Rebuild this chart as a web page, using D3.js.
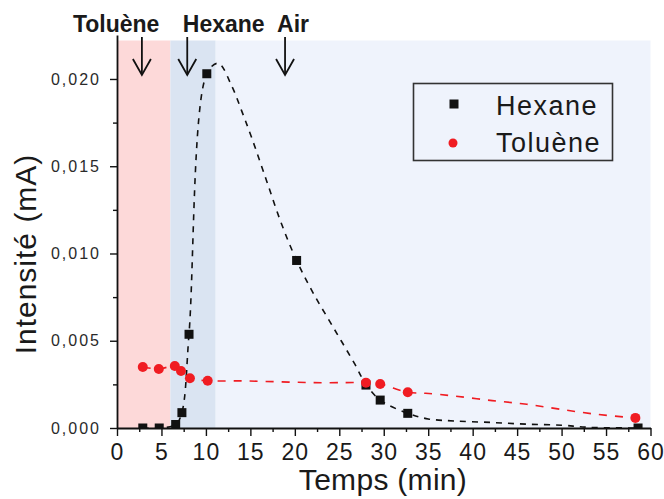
<!DOCTYPE html>
<html>
<head>
<meta charset="utf-8">
<script src="https://cdn.jsdelivr.net/npm/d3@7"></script>
<style>
  html, body { margin: 0; padding: 0; background: #ffffff; }
  svg { display: block; }
  .tick text { font-family: "Liberation Sans", Arial, sans-serif; }
</style>
</head>
<body>
<svg id="chart" width="664" height="499"></svg>
<script>
// Measured series: time (min) and current (mA)
const hexaneT = [2.9, 4.75, 6.6, 7.3, 8.1, 10.1, 20.2, 28.0, 29.6, 32.7, 58.6];
const hexaneV = [0, 0, 0.0002, 0.00088, 0.00537, 0.0203, 0.0096, 0.00246, 0.0016, 0.00084, 0];
const tolueneT = [2.9, 4.7, 6.5, 7.2, 8.2, 10.2, 28.0, 29.6, 32.7, 58.3];
const tolueneV = [0.0035, 0.00338, 0.00355, 0.00327, 0.00285, 0.00271, 0.0026, 0.00252, 0.00205, 0.00058];

// Smoothed trend curves (dashed)
const hexaneFitT = [2.9, 4.75, 6.6, 7.3, 8.1, 10.1, 11.4, 12.9, 14.0, 15.1, 16.8, 18.5, 20.2, 22.1, 24.4, 26.7, 28.0, 29.6, 32.7, 35.0, 38.0, 42.0, 46.0, 50.0, 53.0, 58.6];
const hexaneFitV = [0, 0, 0.0002, 0.0009, 0.0054, 0.0203, 0.0209, 0.0196, 0.0182, 0.0167, 0.0142, 0.0117, 0.0096, 0.0077, 0.0057, 0.0037, 0.0025, 0.0016, 0.00084, 0.00052, 0.0004, 0.00032, 0.00022, 0.00016, 0.00004, 0];
const tolueneFitT = [2.9, 4.7, 6.5, 7.2, 8.2, 10.2, 14, 18, 22, 25.7, 28.0, 29.6, 32.7, 34.7, 38.0, 42.2, 46.1, 49.9, 54.0, 58.3];
const tolueneFitV = [0.0035, 0.00338, 0.00355, 0.00327, 0.00285, 0.00271, 0.0027, 0.00265, 0.0026, 0.0026, 0.0026, 0.00252, 0.00205, 0.00199, 0.00183, 0.00157, 0.00136, 0.00107, 0.00078, 0.00058];

// Gas phases (shaded bands)
const phaseStart = [0, 6.0, 11.1];
const phaseEnd = [6.0, 11.1, 60];
const phaseColor = ["#fdd9d9", "#dae4f2", "#eff3fc"];

// Injection annotations
const eventLabels = ["Toluène", "Hexane", "Air"];
const eventLabelT = [-0.1, 12.0, 19.8];
const eventArrowT = [2.8, 7.9, 18.9];

// Axes ticks
const xTicks = [0, 5, 10, 15, 20, 25, 30, 35, 40, 45, 50, 55, 60];
const xMinor = [2.5, 7.5, 12.5, 17.5, 22.5, 27.5, 32.5, 37.5, 42.5, 47.5, 52.5, 57.5];
const yTicks = [0, 0.005, 0.010, 0.015, 0.020];
const yTickLabels = ["0,000", "0,005", "0,010", "0,015", "0,020"];
const yMinor = [0.0025, 0.0075, 0.0125, 0.0175];

const seriesNames = ["Hexane", "Toluène"];
const seriesColors = ["#111111", "#f01c22"];

const svg = d3.select("#chart");
const plotLeft = 117, plotRight = 650.5, plotTop = 35, plotBottom = 428;

const x = d3.scaleLinear().domain([0, 60]).range([plotLeft, plotRight]);
const y = d3.scaleLinear().domain([0, 0.02252]).range([plotBottom, plotTop]);

// Shaded phases
svg.append("g").selectAll("rect")
  .data(phaseStart.map((s, i) => ({ s, e: phaseEnd[i], c: phaseColor[i] })))
  .join("rect")
  .attr("x", d => x(d.s))
  .attr("width", d => x(d.e) - x(d.s))
  .attr("y", 40.5)
  .attr("height", plotBottom - 40.5)
  .attr("fill", d => d.c);

// Clip region for the plot
svg.append("clipPath").attr("id", "plotClip")
  .append("rect").attr("x", plotLeft).attr("y", plotTop)
  .attr("width", plotRight - plotLeft + 6).attr("height", plotBottom - plotTop);

const plot = svg.append("g").attr("clip-path", "url(#plotClip)");

const line = d3.line().x(d => x(d[0])).y(d => y(d[1])).curve(d3.curveCatmullRom.alpha(0.5));

plot.append("path")
  .datum(hexaneFitT.map((t, i) => [t, hexaneFitV[i]]))
  .attr("d", line)
  .attr("fill", "none")
  .attr("stroke", seriesColors[0])
  .attr("stroke-width", 1.6)
  .attr("stroke-dasharray", "6,6");

plot.append("path")
  .datum(tolueneFitT.map((t, i) => [t, tolueneFitV[i]]))
  .attr("d", line)
  .attr("fill", "none")
  .attr("stroke", seriesColors[1])
  .attr("stroke-width", 1.6)
  .attr("stroke-dasharray", "8,8");

// Hexane markers (squares)
const sq = 9;
plot.append("g").selectAll("rect")
  .data(hexaneT.map((t, i) => [t, hexaneV[i]]))
  .join("rect")
  .attr("x", d => x(d[0]) - sq / 2)
  .attr("y", d => y(d[1]) - sq / 2)
  .attr("width", sq).attr("height", sq)
  .attr("fill", seriesColors[0]);

// Toluène markers (dots)
plot.append("g").selectAll("circle")
  .data(tolueneT.map((t, i) => [t, tolueneV[i]]))
  .join("circle")
  .attr("cx", d => x(d[0]))
  .attr("cy", d => y(d[1]))
  .attr("r", 5)
  .attr("fill", seriesColors[1]);

// Axes
const axisColor = "#111";
const yAxis = svg.append("g").attr("transform", `translate(${plotLeft},0)`)
  .call(d3.axisLeft(y).tickValues(yTicks).tickSize(7).tickSizeOuter(0)
    .tickFormat((d, i) => yTickLabels[i]));
svg.append("g").attr("transform", `translate(${plotLeft},0)`)
  .call(d3.axisLeft(y).tickValues(yMinor).tickSize(4).tickSizeOuter(0).tickFormat(""))
  .select(".domain").remove();

const xAxis = svg.append("g").attr("transform", `translate(0,${plotBottom})`)
  .call(d3.axisBottom(x).tickValues(xTicks).tickSize(8).tickSizeOuter(0));
svg.append("g").attr("transform", `translate(0,${plotBottom})`)
  .call(d3.axisBottom(x).tickValues(xMinor).tickSize(4).tickSizeOuter(0).tickFormat(""))
  .select(".domain").remove();

svg.selectAll(".domain").attr("stroke", axisColor).attr("stroke-width", 1.8);
svg.selectAll(".tick line").attr("stroke", axisColor).attr("stroke-width", 1.4);

yAxis.selectAll(".tick text")
  .attr("x", -16)
  .attr("font-size", 16)
  .attr("letter-spacing", "2px")
  .attr("fill", "#2a2a2a");

xAxis.selectAll(".tick text")
  .attr("y", 16)
  .attr("font-size", 23)
  .attr("letter-spacing", "1px")
  .attr("fill", "#1a1a1a");

// Axis titles
svg.append("text")
  .attr("transform", "translate(36,254) rotate(-90)")
  .attr("text-anchor", "middle")
  .attr("font-family", "Liberation Sans, Arial, sans-serif")
  .attr("font-size", 30)
  .attr("letter-spacing", "1px")
  .attr("fill", "#1a1a1a")
  .text("Intensité (mA)");

svg.append("text")
  .attr("x", 383).attr("y", 490)
  .attr("text-anchor", "middle")
  .attr("font-family", "Liberation Sans, Arial, sans-serif")
  .attr("font-size", 30)
  .attr("letter-spacing", "0.3px")
  .attr("fill", "#1a1a1a")
  .text("Temps (min)");

// Event labels and arrows
svg.append("g").selectAll("text")
  .data(eventLabels)
  .join("text")
  .attr("x", (d, i) => x(eventLabelT[i]))
  .attr("y", 32)
  .attr("text-anchor", "middle")
  .attr("font-family", "Liberation Sans, Arial, sans-serif")
  .attr("font-weight", "bold")
  .attr("font-size", 23)
  .attr("fill", "#1a1a1a")
  .text(d => d);

const arrows = svg.append("g").attr("stroke", "#111").attr("stroke-width", 1.8).attr("fill", "none");
eventArrowT.forEach(t => {
  const ax = x(t);
  arrows.append("line").attr("x1", ax).attr("x2", ax).attr("y1", 37).attr("y2", 75);
  arrows.append("path").attr("d", `M${ax - 9},59 L${ax},75 L${ax + 9},59`);
});

// Legend
const legend = svg.append("g");
legend.append("rect")
  .attr("x", 413.5).attr("y", 83.5).attr("width", 199).attr("height", 77)
  .attr("fill", "none").attr("stroke", "#333").attr("stroke-width", 1.6);
legend.append("rect").attr("x", 454 - 4.5).attr("y", 104 - 4.5).attr("width", 9).attr("height", 9).attr("fill", seriesColors[0]);
legend.append("circle").attr("cx", 453).attr("cy", 143).attr("r", 4.5).attr("fill", seriesColors[1]);
legend.selectAll("text.lg")
  .data(seriesNames)
  .join("text")
  .attr("class", "lg")
  .attr("x", 496)
  .attr("y", (d, i) => 115 + i * 37)
  .attr("font-family", "Liberation Sans, Arial, sans-serif")
  .attr("font-size", 27)
  .attr("letter-spacing", "1.5px")
  .attr("fill", "#1a1a1a")
  .text(d => d);
</script>
</body>
</html>
